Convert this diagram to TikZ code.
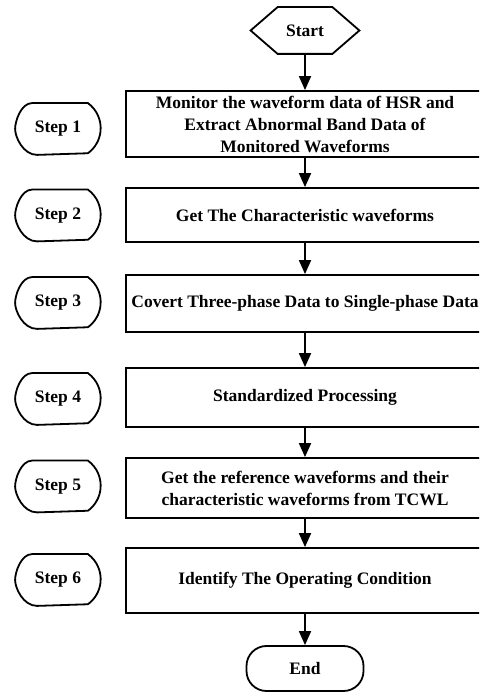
\documentclass[tikz,border=0pt]{standalone}
\usepackage{fontspec}
\setmainfont{Liberation Serif}
\usetikzlibrary{arrows.meta,calc,positioning}
\newcommand{\hexoutline}[1]{\draw (#1.west) -- ($(#1.north west)+(27pt,0)$) -- ($(#1.north east)+(-27pt,0)$) -- (#1.east) -- ($(#1.south east)+(-27pt,0)$) -- ($(#1.south west)+(27pt,0)$) -- cycle;}
\newcommand{\stepoutline}[1]{\draw ($(#1.north east)+(-13pt,0)$) arc[start angle=54,end angle=-54,radius=31pt] -- ($(#1.south west)+(22pt,0)$) .. controls ($(#1.south west)+(8pt,0)$) and ($(#1.west)+(0,-8pt)$) .. (#1.west) .. controls ($(#1.west)+(0,8pt)$) and ($(#1.north west)+(6pt,0)$) .. ($(#1.north west)+(17pt,0)$) -- cycle;}
\tikzset{
  flowbox/.style={draw,minimum width=358pt,minimum height=#1,inner sep=0pt,align=center},
  termnode/.style={minimum width=107pt,minimum height=45pt,inner sep=0pt},
  endnode/.style={draw,rounded corners=20pt,minimum width=117pt,minimum height=45pt,inner sep=0pt},
  stepnode/.style={minimum width=84pt,minimum height=50pt,inner sep=0pt},
  flowarrow/.style={-{Triangle[length=14pt,width=12pt]}}
}
\begin{document}
\begin{tikzpicture}[x=1pt,y=1pt,line width=1.8pt,font=\fontsize{17.5}{22}\selectfont\bfseries]
    \useasboundingbox (0,0) rectangle (479,692);
    \clip (0,0) rectangle (479,692);
    \node[termnode] (start) at (305,661.5) {Start};
    \hexoutline{start}
    \node[flowbox=66pt] (monitor) at (305,568) {Monitor the waveform data of HSR and\\Extract Abnormal Band Data of\\Monitored Waveforms}; %box1
    \node[flowbox=54pt] (charwave) at (305,477) {Get The Characteristic waveforms}; %box2
    \node[flowbox=57pt] (convert) at (305,388.5) {Covert Three-phase Data to Single-phase Data}; %box3
    \node[flowbox=59pt] (standard) at (305,294.5) {Standardized Processing}; %box4
    \node[flowbox=60pt] (refwave) at (305,204) {Get the reference waveforms and their\\characteristic waveforms from TCWL}; %box5
    \node[flowbox=65pt] (identify) at (305,111.5) {Identify The Operating Condition}; %box6
    \node[endnode] (end) at (305,23.5) {End};
    \node[stepnode] (step1) at (58,563) {Step 1};
    \stepoutline{step1}
    \node[stepnode] (step2) at (58,476.5) {Step 2};
    \stepoutline{step2}
    \node[stepnode] (step3) at (58,389) {Step 3};
    \stepoutline{step3}
    \node[stepnode] (step4) at (58,293) {Step 4};
    \stepoutline{step4}
    \node[stepnode] (step5) at (58,205.5) {Step 5};
    \stepoutline{step5}
    \node[stepnode] (step6) at (58,112) {Step 6};
    \stepoutline{step6}
    \draw[flowarrow] (start) -- (monitor);
    \draw[flowarrow] (monitor) -- (charwave);
    \draw[flowarrow] (charwave) -- (convert);
    \draw[flowarrow] (convert) -- (standard);
    \draw[flowarrow] (standard) -- (refwave);
    \draw[flowarrow] (refwave) -- (identify);
    \draw[flowarrow] (identify) -- (end);
\end{tikzpicture}
\end{document}
